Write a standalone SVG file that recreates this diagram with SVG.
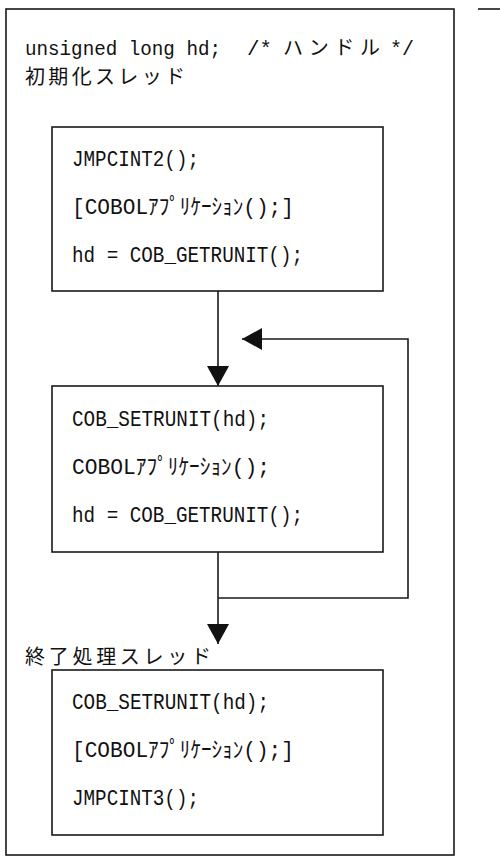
<svg xmlns="http://www.w3.org/2000/svg" width="500" height="857" viewBox="0 0 500 857">
<style>
.frame{fill:#fff;stroke:#1a1a1a;stroke-width:1.6}
.box{fill:#fff;stroke:#1a1a1a;stroke-width:1.6}
.conn{fill:none;stroke:#1a1a1a;stroke-width:1.6}
.code{font-family:"Liberation Mono","Noto Sans CJK JP",monospace;font-size:22px;fill:#111}
.top{font-family:"Liberation Mono","Noto Sans CJK JP",monospace;font-size:20px;fill:#111}
.jp{font-family:"Noto Sans CJK JP","Noto Sans CJK SC",sans-serif;font-size:20px;fill:#111}
</style>
<defs>
<marker id="arrow" viewBox="0 0 20 22" refX="20" refY="11" markerWidth="20" markerHeight="22" markerUnits="userSpaceOnUse" orient="auto">
<path d="M0,0 L20,11 L0,22 Z" fill="#111"/>
</marker>
</defs>
<rect width="500" height="857" fill="#fff"/>
<g id="outer">
<rect class="frame" x="6" y="9" width="448" height="846"/>
<line x1="478" y1="9" x2="500" y2="9" stroke="#1a1a1a" stroke-width="1.6"/>
<text class="top" x="25" y="55" xml:space="default"><tspan x="25" textLength="196" lengthAdjust="spacingAndGlyphs">unsigned long hd;</tspan> <tspan x="247" textLength="25" lengthAdjust="spacingAndGlyphs">/*</tspan> <tspan class="jp" x="283" textLength="97" lengthAdjust="spacing" style="font-family:'Noto Sans CJK JP',sans-serif">ハンドル</tspan> <tspan x="390" textLength="24" lengthAdjust="spacingAndGlyphs">*/</tspan></text>
<text class="jp" x="25" y="84" textLength="160" lengthAdjust="spacing">初期化スレッド</text>
<text class="jp" x="25" y="664" textLength="186" lengthAdjust="spacing">終了処理スレッド</text>
</g>
<g id="connectors">
<line class="conn" x1="218" y1="291" x2="218" y2="386" marker-end="url(#arrow)"/>
<line class="conn" x1="218" y1="552" x2="218" y2="644" marker-end="url(#arrow)"/>
<polyline class="conn" points="218,598 408,598 408,339 242,339" marker-end="url(#arrow)"/>
</g>
<g id="init-thread">
<rect class="box" x="52" y="127" width="331" height="164"/>
<text class="code" x="72" y="166" textLength="127" lengthAdjust="spacingAndGlyphs">JMPCINT2();</text>
<text class="code" x="72" y="214" textLength="222" lengthAdjust="spacingAndGlyphs">[COBOLｱﾌﾟﾘｹｰｼｮﾝ();]</text>
<text class="code" x="72" y="262" textLength="231" lengthAdjust="spacingAndGlyphs">hd = COB_GETRUNIT();</text>
</g>
<g id="loop-body">
<rect class="box" x="52" y="386" width="331" height="166"/>
<text class="code" x="72" y="426" textLength="197" lengthAdjust="spacingAndGlyphs">COB_SETRUNIT(hd);</text>
<text class="code" x="72" y="474" textLength="198" lengthAdjust="spacingAndGlyphs">COBOLｱﾌﾟﾘｹｰｼｮﾝ();</text>
<text class="code" x="72" y="522" textLength="231" lengthAdjust="spacingAndGlyphs">hd = COB_GETRUNIT();</text>
</g>
<g id="term-thread">
<rect class="box" x="52" y="670" width="331" height="165"/>
<text class="code" x="72" y="709" textLength="197" lengthAdjust="spacingAndGlyphs">COB_SETRUNIT(hd);</text>
<text class="code" x="72" y="757" textLength="222" lengthAdjust="spacingAndGlyphs">[COBOLｱﾌﾟﾘｹｰｼｮﾝ();]</text>
<text class="code" x="72" y="805" textLength="127" lengthAdjust="spacingAndGlyphs">JMPCINT3();</text>
</g>
</svg>
